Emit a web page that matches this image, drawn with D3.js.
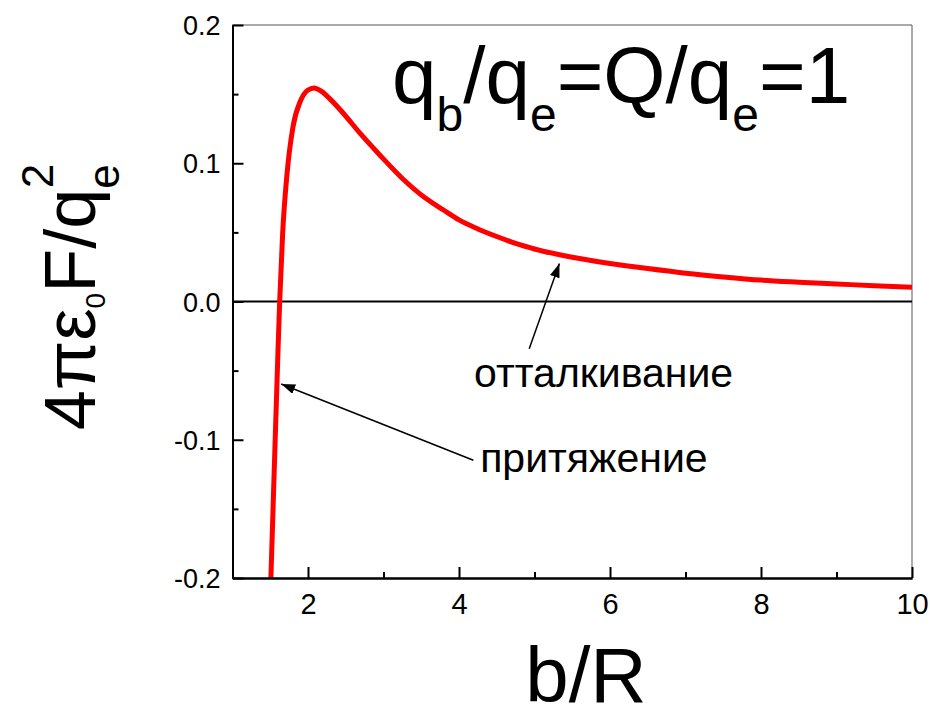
<!DOCTYPE html>
<html>
<head>
<meta charset="utf-8">
<script src="https://cdn.jsdelivr.net/npm/d3@7"></script>
<style>
  body { margin: 0; background: #fff; }
  svg { display: block; font-family: "Liberation Sans", Arial, sans-serif; }
</style>
</head>
<body>
<div class="chart"></div>
<script>
// data
var bValues = [1.50, 1.55, 1.60, 1.625, 1.665, 1.72, 1.80, 1.90, 2.00, 2.08, 2.18, 2.30, 2.47, 2.70,
  2.95, 3.25, 3.55, 3.8, 4.0, 4.25, 4.5, 4.75, 5.0, 5.5, 6.0, 6.5, 7.0, 7.5, 8.0, 8.5, 9.0, 9.5, 10.0];
var forceValues = [-0.215, -0.127, -0.040, 0.0, 0.050, 0.091, 0.126, 0.145, 0.153, 0.1545, 0.152, 0.146, 0.136, 0.121,
  0.106, 0.089, 0.075, 0.066, 0.059, 0.0525, 0.047, 0.042, 0.038, 0.032, 0.0275, 0.0238, 0.0205, 0.0178, 0.0155,
  0.014, 0.0127, 0.0114, 0.0103];

var xMajorTicks = [2, 4, 6, 8, 10];
var xMinorTicks = [3, 5, 7, 9];
var yMajorTicks = [-0.2, -0.1, 0.0, 0.1, 0.2];
var yMinorTicks = [-0.15, -0.05, 0.05, 0.15];

var annotations = [
  { text: "отталкивание", tip: [5.33, 0.0275], tail: [4.93, -0.0342], at: [4.2, -0.062] },
  { text: "притяжение", tip: [1.645, -0.0597], tail: [4.19, -0.1148], at: [4.28, -0.1236] }
];

var svgWidth = 930, svgHeight = 719;
var margin = { top: 25, right: 18, bottom: 141, left: 232.5 };
var chartWidth = svgWidth - margin.left - margin.right;
var chartHeight = svgHeight - margin.top - margin.bottom;

var svg = d3.select(".chart").append("svg")
  .attr("width", svgWidth)
  .attr("height", svgHeight);

var chartGroup = svg.append("g")
  .attr("transform", `translate(${margin.left}, ${margin.top})`);

var xScale = d3.scaleLinear().domain([1, 10]).range([0, chartWidth]);
var yScale = d3.scaleLinear().domain([-0.2, 0.2]).range([chartHeight, 0]);

// frame top / right (thin gray)
chartGroup.append("line")
  .attr("x1", 0).attr("x2", chartWidth).attr("y1", 0).attr("y2", 0)
  .attr("stroke", "#555").attr("stroke-width", 1);
chartGroup.append("line")
  .attr("x1", chartWidth).attr("x2", chartWidth).attr("y1", 0).attr("y2", chartHeight)
  .attr("stroke", "#555").attr("stroke-width", 1);

// zero line
chartGroup.append("line")
  .attr("x1", 0).attr("x2", chartWidth)
  .attr("y1", yScale(0)).attr("y2", yScale(0))
  .attr("stroke", "#000").attr("stroke-width", 2);

// clip
chartGroup.append("clipPath").attr("id", "plotClip")
  .append("rect").attr("width", chartWidth).attr("height", chartHeight);

var pts = bValues.map(function (b, i) { return [b, forceValues[i]]; });
var line = d3.line()
  .x(function (d) { return xScale(d[0]); })
  .y(function (d) { return yScale(d[1]); })
  .curve(d3.curveMonotoneX);

chartGroup.append("path")
  .datum(pts)
  .attr("clip-path", "url(#plotClip)")
  .attr("d", line)
  .attr("fill", "none")
  .attr("stroke", "#ff0000")
  .attr("stroke-width", 5)
  .attr("stroke-linejoin", "round");

// axes
var yFmt = function (d) { return d3.format(".1f")(d).replace("−", "-"); };
var bottomAxis = d3.axisBottom(xScale).tickValues(xMajorTicks)
  .tickSizeInner(-11).tickSizeOuter(0).tickPadding(15).tickFormat(d3.format("d"));
var bottomMinor = d3.axisBottom(xScale).tickValues(xMinorTicks)
  .tickSizeInner(-6).tickSizeOuter(0).tickFormat("");
var leftAxis = d3.axisLeft(yScale).tickValues(yMajorTicks)
  .tickSizeInner(-11).tickSizeOuter(0).tickPadding(12).tickFormat(yFmt);
var leftMinor = d3.axisLeft(yScale).tickValues(yMinorTicks)
  .tickSizeInner(-6).tickSizeOuter(0).tickFormat("");

function styleAxis(g) {
  g.attr("font-family", null).attr("font-size", null);
  g.select(".domain").attr("stroke", "#000").attr("stroke-width", 2);
  g.selectAll(".tick line").attr("stroke", "#000").attr("stroke-width", 2);
  g.selectAll(".tick text").attr("fill", "#000");
}

chartGroup.append("g").attr("transform", `translate(0, ${chartHeight})`).call(bottomMinor).call(styleAxis);
chartGroup.append("g").call(leftMinor).call(styleAxis);
chartGroup.append("g").attr("transform", `translate(0, ${chartHeight})`).call(bottomAxis).call(styleAxis)
  .selectAll(".tick text").style("font-size", "29px");
chartGroup.append("g").call(leftAxis).call(styleAxis)
  .selectAll(".tick text").style("font-size", "27px").attr("dy", "0.36em");

// arrows
svg.append("defs").append("marker")
  .attr("id", "arrowHead")
  .attr("viewBox", "0 0 14 10")
  .attr("refX", 14).attr("refY", 5)
  .attr("markerWidth", 14).attr("markerHeight", 10)
  .attr("markerUnits", "userSpaceOnUse")
  .attr("orient", "auto")
  .append("path").attr("d", "M0,0 L14,5 L0,10 Z").attr("fill", "#000");

annotations.forEach(function (a) {
  chartGroup.append("line")
    .attr("x1", xScale(a.tail[0])).attr("y1", yScale(a.tail[1]))
    .attr("x2", xScale(a.tip[0])).attr("y2", yScale(a.tip[1]))
    .attr("stroke", "#000").attr("stroke-width", 1.5)
    .attr("marker-end", "url(#arrowHead)");
  chartGroup.append("text")
    .attr("x", xScale(a.at[0])).attr("y", yScale(a.at[1]))
    .style("font-size", "41px")
    .text(a.text);
});

// title inside plot
var title = svg.append("text")
  .attr("x", 392).attr("y", 103)
  .style("font-size", "80px");
title.append("tspan").text("q");
title.append("tspan").attr("dy", 28).style("font-size", "48px").text("b");
title.append("tspan").attr("dy", -28).text("/q");
title.append("tspan").attr("dy", 28).style("font-size", "48px").text("e");
title.append("tspan").attr("dy", -28).text("=Q/q");
title.append("tspan").attr("dy", 28).style("font-size", "48px").text("e");
title.append("tspan").attr("dy", -28).text("=1");

// x axis label
svg.append("text")
  .attr("x", 586).attr("y", 702)
  .attr("text-anchor", "middle")
  .style("font-size", "78px")
  .text("b/R");

// y axis label
var yLabel = svg.append("text")
  .attr("transform", "translate(95, 297) rotate(-90)")
  .attr("text-anchor", "middle")
  .style("font-size", "72px");
yLabel.append("tspan").text("4πε");
yLabel.append("tspan").attr("dy", 10).style("font-size", "28px").text("0");
yLabel.append("tspan").attr("dy", -10).text("F/q");
yLabel.append("tspan").attr("dy", 24).style("font-size", "44px").text("e");
yLabel.append("tspan").attr("dx", -24).attr("dy", -66).style("font-size", "44px").text("2");
</script>
</body>
</html>
